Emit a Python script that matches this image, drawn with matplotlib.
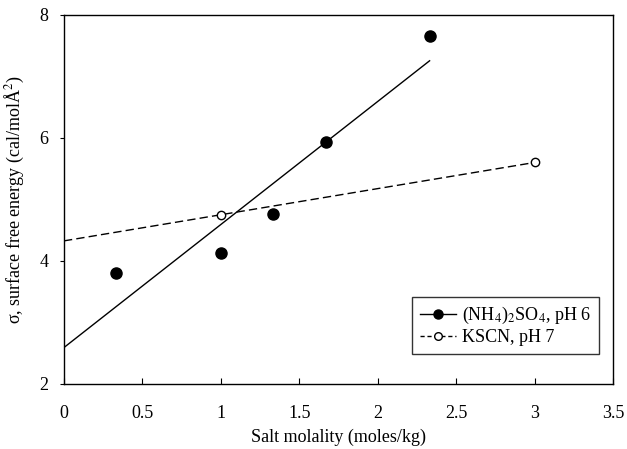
import numpy as np
import matplotlib
matplotlib.use("Agg")
import matplotlib.pyplot as plt
from matplotlib.lines import Line2D

plt.rcParams['font.family'] = ['Liberation Serif', 'DejaVu Serif']
plt.rcParams['mathtext.fontset'] = 'stix'

# (NH4)2SO4, pH 6
x_nh4 = [0.33, 1.0, 1.33, 1.67, 2.33]
y_nh4 = [3.80, 4.13, 4.77, 5.93, 7.65]

# KSCN, pH 7
x_kscn = [1.0, 3.0]
y_kscn = [4.75, 5.60]

fig = plt.figure(figsize=(6.27, 4.49), dpi=100)
ax = fig.add_axes([0.102, 0.145, 0.876, 0.822])

# linear fits
p1 = np.polyfit(x_nh4, y_nh4, 1)
xx1 = np.array([0, max(x_nh4)])
ax.plot(xx1, np.polyval(p1, xx1), color='black', lw=1.0)

p2 = np.polyfit(x_kscn, y_kscn, 1)
xx2 = np.array([0, max(x_kscn)])
ax.plot(xx2, np.polyval(p2, xx2), color='black', lw=1.0, ls=(0, (6, 3)))

ax.plot(x_nh4, y_nh4, 'o', color='black', ms=8, zorder=3)
ax.plot(x_kscn, y_kscn, 'o', mfc='white', mec='black', mew=1.0, ms=6, zorder=3)

ax.set_xlim(0, 3.5)
ax.set_ylim(2, 8)
ax.set_xticks(np.arange(0, 3.51, 0.5))
ax.set_xticklabels(['0', '0.5', '1', '1.5', '2', '2.5', '3', '3.5'])
ax.set_yticks([2, 4, 6, 8])
ax.tick_params(axis='x', direction='in', length=4, labelsize=13, pad=15)
ax.tick_params(axis='y', direction='out', length=3, labelsize=13, pad=8)

ax.set_xlabel('Salt molality (moles/kg)', fontsize=13, labelpad=5)
ax.set_ylabel('σ, surface free energy (cal/molÅ$^2$)', fontsize=13, labelpad=10)

handles = [
    Line2D([], [], color='black', lw=1.0, marker='o', ms=6.5, mfc='black'),
    Line2D([], [], color='black', lw=1.0, ls=(0, (3, 2)), marker='o', ms=5.5, mfc='white'),
]
labels = ['(NH$_4$)$_2$SO$_4$, pH 6', 'KSCN, pH 7']
leg = ax.legend(handles, labels, loc='lower right', bbox_to_anchor=(0.974, 0.081),
                borderaxespad=0, fontsize=13, frameon=True, fancybox=False,
                edgecolor='black', handlelength=2.0, handletextpad=0.3,
                borderpad=0.45, labelspacing=0.15)
leg.get_frame().set_linewidth(1.0)

for s in ax.spines.values():
    s.set_linewidth(1.0)

fig.savefig('out.png', dpi=100)
